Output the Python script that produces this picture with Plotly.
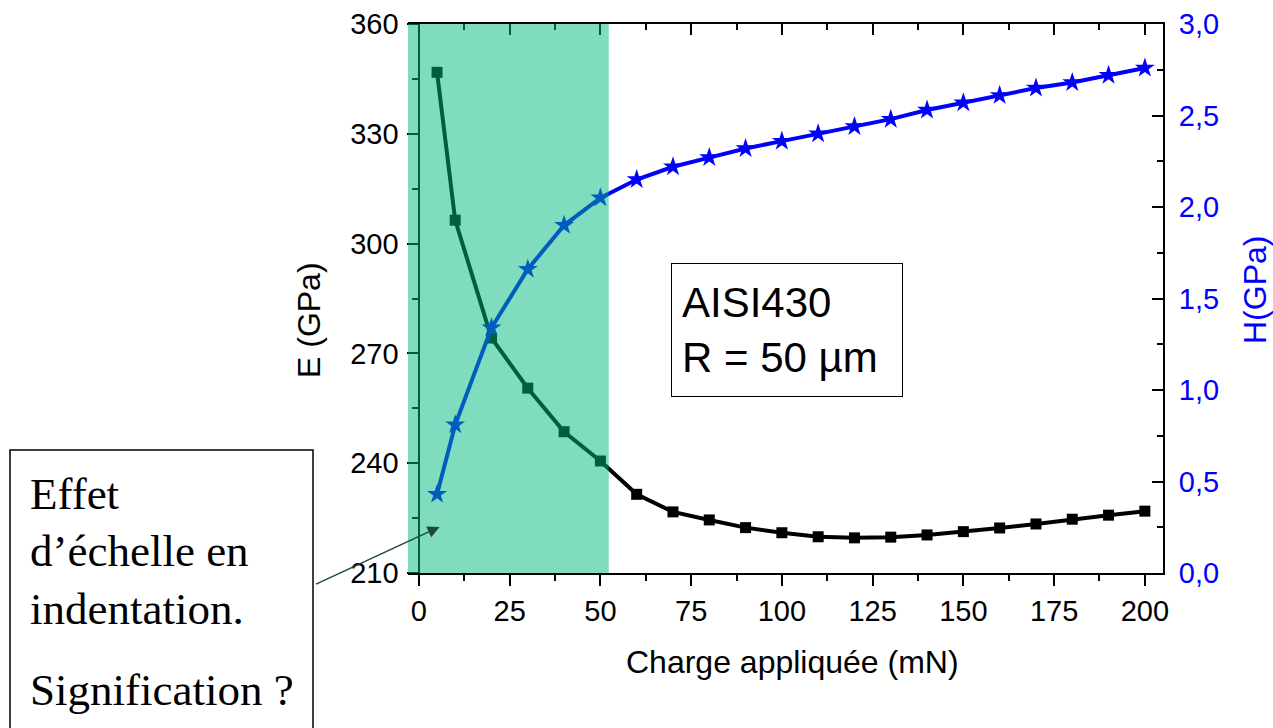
import plotly.graph_objects as go

charge = [5, 10, 20, 30, 40, 50, 60, 70, 80, 90, 100, 110, 120, 130, 140, 150, 160, 170, 180, 190, 200]
E_gpa = [346.8, 306.4, 274.2, 260.5, 248.6, 240.6, 231.5, 226.7, 224.5, 222.4, 221.0, 219.9, 219.6, 219.8, 220.4, 221.3, 222.3, 223.4, 224.7, 225.8, 226.9]
H_gpa = [0.43, 0.81, 1.34, 1.66, 1.90, 2.05, 2.15, 2.22, 2.27, 2.32, 2.36, 2.40, 2.44, 2.48, 2.53, 2.57, 2.61, 2.65, 2.68, 2.72, 2.76]

x_ticks = [0, 25, 50, 75, 100, 125, 150, 175, 200]
E_ticks = [210, 240, 270, 300, 330, 360]
H_ticks = [0.0, 0.5, 1.0, 1.5, 2.0, 2.5, 3.0]
H_ticktext = ["0,0", "0,5", "1,0", "1,5", "2,0", "2,5", "3,0"]

shade_x = [-3, 52.3]
x_range = [-3, 205]

fig = go.Figure()

fig.add_trace(go.Scatter(
    x=charge, y=E_gpa, mode="lines+markers", yaxis="y", xaxis="x",
    line=dict(color="black", width=4),
    marker=dict(symbol="square", size=11, color="black"),
    showlegend=False,
))
fig.add_trace(go.Scatter(
    x=charge, y=H_gpa, mode="lines+markers", yaxis="y2", xaxis="x",
    line=dict(color="#0000ff", width=4),
    marker=dict(symbol="star", size=15, color="#0000ff"),
    showlegend=False,
))
# invisible trace to activate top mirror axis
fig.add_trace(go.Scatter(x=[x_range[0]], y=[E_ticks[0]], xaxis="x2", yaxis="y",
                         mode="markers", marker=dict(opacity=0), showlegend=False,
                         hoverinfo="skip"))

font_ax = dict(family="Liberation Sans, Arial", size=29, color="black")
font_title = dict(family="Liberation Sans, Arial", size=32, color="black")

fig.update_layout(
    width=1273, height=728,
    margin=dict(l=408, r=110, t=24, b=155, autoexpand=False),
    paper_bgcolor="white", plot_bgcolor="white",
    xaxis=dict(
        range=x_range, domain=[0, 1], anchor="y", automargin=False,
        tickvals=x_ticks, ticks="outside", ticklen=11, tickwidth=2, tickcolor="black",
        minor=dict(tickvals=[12.5, 37.5, 62.5, 87.5, 112.5, 137.5, 162.5, 187.5],
                   ticks="outside", ticklen=6, tickwidth=2, tickcolor="black"),
        showline=True, linecolor="black", linewidth=2,
        showgrid=False, zeroline=False,
        tickfont=font_ax, ticklabelstandoff=0,
    ),
    xaxis2=dict(
        range=x_range, overlaying="x", side="top", anchor="y", automargin=False,
        tickvals=x_ticks, ticks="inside", ticklen=11, tickwidth=2, tickcolor="black",
        minor=dict(tickvals=[12.5, 37.5, 62.5, 87.5, 112.5, 137.5, 162.5, 187.5],
                   ticks="inside", ticklen=6, tickwidth=2, tickcolor="black"),
        showline=True, linecolor="black", linewidth=2,
        showgrid=False, zeroline=False, showticklabels=False,
    ),
    yaxis=dict(
        range=[210, 360], domain=[0, 1], anchor="free", position=0.015, automargin=False,
        tickvals=E_ticks, ticks="outside", ticklen=11, tickwidth=2, tickcolor="black",
        minor=dict(tickvals=[225, 255, 285, 315, 345],
                   ticks="outside", ticklen=6, tickwidth=2, tickcolor="black"),
        showline=True, linecolor="black", linewidth=2,
        showgrid=False, zeroline=False,
        tickfont=font_ax, ticklabelstandoff=3,
    ),
    yaxis2=dict(
        range=[0, 3], overlaying="y", side="right", anchor="x", automargin=False,
        tickvals=H_ticks, ticktext=H_ticktext,
        ticks="inside", ticklen=11, tickwidth=2, tickcolor="black",
        minor=dict(tickvals=[0.25, 0.75, 1.25, 1.75, 2.25, 2.75],
                   ticks="inside", ticklen=6, tickwidth=2, tickcolor="black"),
        showline=True, linecolor="black", linewidth=2,
        showgrid=False, zeroline=False,
        tickfont=dict(family="Liberation Sans, Arial", size=29, color="#0000ff"),
        ticklabelstandoff=8,
    ),
)

# shaded region (overlay)
fig.add_shape(type="rect", xref="x", yref="paper", x0=shade_x[0], x1=shade_x[1], y0=0, y1=1,
              fillcolor="rgba(0,185,125,0.5)", line=dict(width=0), layer="above")

# axis titles
fig.add_annotation(text="E (GPa)", xref="paper", yref="paper", x=(309 - 408) / 755, y=(573 - 320) / 549,
                   xanchor="center", yanchor="middle",
                   textangle=-90, showarrow=False, font=font_title)
fig.add_annotation(text="H(GPa)", xref="paper", yref="paper", x=(1255 - 408) / 755, y=(573 - 290) / 549,
                   xanchor="center", yanchor="middle",
                   textangle=-90, showarrow=False,
                   font=dict(family="Liberation Sans, Arial", size=32, color="#0000ff"))
fig.add_annotation(text="Charge appliquée (mN)", xref="paper", yref="paper",
                   x=(792 - 408) / 755, y=(573 - 662) / 549,
                   xanchor="center", yanchor="middle",
                   showarrow=False, font=font_title)

# AISI430 box
fig.add_annotation(text="AISI430<br>R = 50 µm", xref="paper", yref="paper",
                   x=(787 - 408) / 755, y=(573 - 329.5) / 549, showarrow=False, align="left",
                   xanchor="center", yanchor="middle",
                   width=210, height=112,
                   bordercolor="black", borderwidth=1, borderpad=10, bgcolor="white",
                   font=dict(family="Liberation Sans, Arial", size=42, color="black"))

# left comment box
fig.add_shape(type="rect", xref="paper", yref="paper",
              x0=(10 - 408) / 755, x1=(313 - 408) / 755,
              y0=-0.4, y1=(573 - 450) / 549,
              line=dict(color="black", width=1.5), fillcolor="white", layer="above")
serif = dict(family="Liberation Serif, Times New Roman", size=45, color="black")
for txt, ypx in [("Effet", 494), ("d’échelle en", 551), ("indentation.", 609), ("Signification ?", 690)]:
    fig.add_annotation(text=txt, xref="paper", yref="paper",
                       x=(28 - 408) / 755, y=(573 - ypx) / 549,
                       xanchor="left", yanchor="middle", showarrow=False, font=serif)

# arrow
fig.add_annotation(x=5.7, y=222.6, xref="x", yref="y", text="",
                   showarrow=True, ax=-125, ay=58, arrowhead=2, arrowsize=1.6,
                   arrowwidth=1.5, arrowcolor="#1d4a3c")

fig.write_html("out.html")
